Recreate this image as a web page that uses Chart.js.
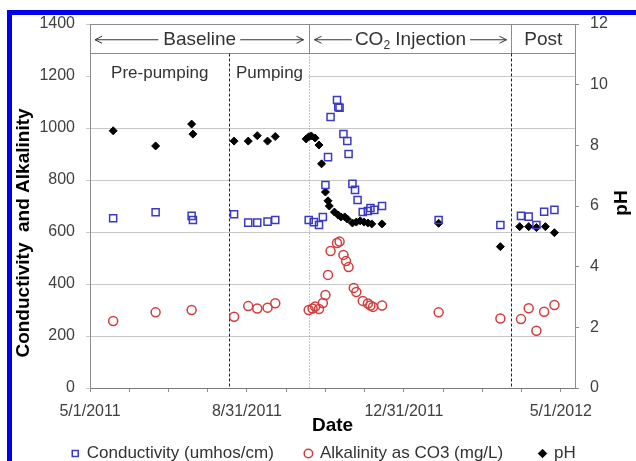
<!DOCTYPE html>
<html lang="en">
<head>
  <meta charset="UTF-8">
  <title>Conductivity, Alkalinity and pH</title>
  <script src="https://cdn.jsdelivr.net/npm/chart.js"></script>
  <style>
    html, body {
      margin: 0;
      padding: 0;
      background: #fff;
      overflow: hidden;
    }
    #wrap {
      position: relative;
      width: 636px;
      height: 472px;
    }
    #frame {
      position: absolute;
      left: 7px;
      top: 10px;
      right: -20px;
      bottom: -20px;
      border-top: 5px solid #0000f0;
      border-left: 5px solid #0000f0;
      pointer-events: none;
    }
  </style>
</head>
<body>
  <div id="wrap">
    <canvas id="chart" width="636" height="472"></canvas>
    <div id="frame"></div>
  </div>

  <script>
    // sampling dates and values
    const condDates = ['2011-05-19', '2011-06-21', '2011-07-19', '2011-07-20', '2011-08-21', '2011-09-01', '2011-09-08',
      '2011-09-16', '2011-09-22', '2011-10-18', '2011-10-22', '2011-10-26', '2011-10-29', '2011-10-31', '2011-11-02',
      '2011-11-04', '2011-11-09', '2011-11-10', '2011-11-11', '2011-11-14', '2011-11-17', '2011-11-18', '2011-11-21',
      '2011-11-23', '2011-11-25', '2011-11-29', '2011-12-03', '2011-12-05', '2011-12-08', '2011-12-14', '2012-01-27',
      '2012-03-15', '2012-03-31', '2012-04-06', '2012-04-12', '2012-04-18', '2012-04-26'];
    const condValues = [653, 676, 662, 646, 668, 636, 636,
      640, 646, 646, 638, 627, 658, 781, 888,
      1042, 1108, 1081, 1078, 977, 950, 900, 785,
      762, 723, 677, 681, 692, 685, 700, 646,
      627, 662, 659, 627, 678, 685];

    const alkDates = ['2011-05-19', '2011-06-21', '2011-07-19', '2011-08-21', '2011-09-01', '2011-09-08', '2011-09-16',
      '2011-09-22', '2011-10-18', '2011-10-21', '2011-10-23', '2011-10-26', '2011-10-29', '2011-10-31', '2011-11-02',
      '2011-11-04', '2011-11-09', '2011-11-11', '2011-11-14', '2011-11-16', '2011-11-18', '2011-11-22', '2011-11-24',
      '2011-11-29', '2011-12-03', '2011-12-05', '2011-12-07', '2011-12-14', '2012-01-27', '2012-03-15', '2012-03-31',
      '2012-04-06', '2012-04-12', '2012-04-18', '2012-04-26'];
    const alkValues = [258, 291, 300, 274, 315, 306, 309,
      326, 300, 306, 313, 304, 327, 358, 435,
      527, 558, 563, 512, 488, 465, 385, 369,
      335, 325, 317, 312, 317, 291, 267, 265,
      307, 220, 293, 319];

    const phDates = ['2011-05-19', '2011-06-21', '2011-07-19', '2011-07-20', '2011-08-21', '2011-09-01', '2011-09-08',
      '2011-09-16', '2011-09-22', '2011-10-16', '2011-10-18', '2011-10-20', '2011-10-23', '2011-10-26', '2011-10-28',
      '2011-10-31', '2011-11-02', '2011-11-03', '2011-11-07', '2011-11-10', '2011-11-12', '2011-11-15', '2011-11-17',
      '2011-11-21', '2011-11-24', '2011-11-27', '2011-11-30', '2011-12-03', '2011-12-06', '2011-12-14', '2012-01-27',
      '2012-03-15', '2012-03-30', '2012-04-06', '2012-04-12', '2012-04-19', '2012-04-26'];
    const phValues = [8.48, 7.98, 8.70, 8.37, 8.14, 8.14, 8.32,
      8.14, 8.29, 8.21, 8.28, 8.31, 8.24, 8.01, 7.39,
      6.46, 6.17, 6.00, 5.80, 5.70, 5.64, 5.64, 5.57,
      5.44, 5.47, 5.51, 5.47, 5.44, 5.41, 5.41, 5.43,
      4.66, 5.32, 5.32, 5.29, 5.32, 5.12];

    // axis ticks and study phases
    const xTickLabels = ['5/1/2011', '8/31/2011', '12/31/2011', '5/1/2012'];
    const xAxisEnd = '2012-05-12';
    const phaseLineDates = ['2011-08-17', '2011-10-18', '2012-03-23']; // pumping, CO2 start, post
    const headerBandTop = 1290; // bottom edge of the phase header row (left axis units)

    const FONT = "'Liberation Sans', Arial, sans-serif";
    const BLUE = '#3a3ac4';
    const RED = '#d23c3c';

    const startMs = Date.UTC(2011, 4, 1);
    function dayOf(iso) {
      const [y, m, d] = iso.split('-').map(Number);
      return (Date.UTC(y, m - 1, d) - startMs) / 864e5;
    }
    function dayOfUS(s) {
      const [m, d, y] = s.split('/').map(Number);
      return (Date.UTC(y, m - 1, d) - startMs) / 864e5;
    }
    const toPoints = (dates, vals) => dates.map((d, i) => ({ x: dayOf(d), y: vals[i] }));

    const majorDays = xTickLabels.map(dayOfUS);
    // four minor marks per major interval
    const tickDays = [];
    for (let i = 0; i < majorDays.length - 1; i++) {
      const step = (majorDays[i + 1] - majorDays[i]) / 4;
      for (let k = 0; k < 4; k++) tickDays.push(majorDays[i] + k * step);
    }
    tickDays.push(majorDays[majorDays.length - 1]);

    function arrow(ctx, x1, x2, y) {
      const d = x2 > x1 ? -1 : 1;
      ctx.beginPath();
      ctx.moveTo(x1, y);
      ctx.lineTo(x2, y);
      ctx.moveTo(x2 + d * 7, y - 3.5);
      ctx.lineTo(x2, y);
      ctx.lineTo(x2 + d * 7, y + 3.5);
      ctx.stroke();
    }

    const phasePlugin = {
      id: 'phases',
      beforeDatasetsDraw(chart) {
        const { ctx, chartArea: a, scales: { x, y } } = chart;
        const bandY = Math.round(y.getPixelForValue(headerBandTop)) + 0.5;
        const [pumpX, injX, postX] = phaseLineDates.map(d => Math.round(x.getPixelForValue(dayOf(d))) + 0.5);
        ctx.save();

        // text boxes under the baseline labels hide the grid line
        ctx.fillStyle = '#fff';
        ctx.fillRect(a.left + 1, bandY + 8, injX - a.left - 2, 30);

        ctx.strokeStyle = '#8c8c8c';
        ctx.lineWidth = 1;
        ctx.beginPath();
        ctx.moveTo(a.left, a.top + 0.5); ctx.lineTo(a.right, a.top + 0.5);
        ctx.moveTo(a.left, bandY); ctx.lineTo(a.right, bandY);
        ctx.moveTo(injX, a.top); ctx.lineTo(injX, bandY);
        ctx.moveTo(postX, a.top); ctx.lineTo(postX, bandY);
        ctx.stroke();

        ctx.setLineDash([1, 2]);
        ctx.beginPath();
        ctx.moveTo(injX, bandY); ctx.lineTo(injX, a.bottom);
        ctx.stroke();

        ctx.setLineDash([3, 2]);
        ctx.strokeStyle = '#222';
        ctx.beginPath();
        ctx.moveTo(pumpX, bandY); ctx.lineTo(pumpX, a.bottom);
        ctx.moveTo(postX, bandY); ctx.lineTo(postX, a.bottom);
        ctx.stroke();
        ctx.setLineDash([]);

        // header row
        const midY = (a.top + bandY) / 2 + 1;
        ctx.fillStyle = '#333';
        ctx.strokeStyle = '#333';
        ctx.textBaseline = 'middle';
        ctx.textAlign = 'left';
        ctx.font = '19px ' + FONT;

        let cx = (a.left + injX) / 2;
        let w = ctx.measureText('Baseline').width;
        ctx.fillText('Baseline', cx - w / 2, midY);
        arrow(ctx, cx - w / 2 - 5, a.left + 5, midY);
        arrow(ctx, cx + w / 2 + 4, injX - 6, midY);

        const wCO = ctx.measureText('CO').width;
        const wInj = ctx.measureText(' Injection').width;
        ctx.font = '12px ' + FONT;
        const wSub = ctx.measureText('2').width;
        w = wCO + wSub + wInj;
        cx = (injX + postX) / 2;
        let tx = cx - w / 2;
        ctx.font = '19px ' + FONT;
        ctx.fillText('CO', tx, midY);
        ctx.font = '12px ' + FONT;
        ctx.fillText('2', tx + wCO, midY + 6);
        ctx.font = '19px ' + FONT;
        ctx.fillText(' Injection', tx + wCO + wSub, midY);
        arrow(ctx, tx - 3, injX + 5, midY);
        arrow(ctx, tx + w + 4, postX - 5, midY);

        ctx.textAlign = 'center';
        ctx.fillText('Post', (postX + a.right) / 2, midY);

        ctx.font = '17px ' + FONT;
        ctx.fillText('Pre-pumping', (a.left + pumpX) / 2, 73);
        ctx.fillText('Pumping', (pumpX + injX) / 2, 73);
        ctx.restore();
      },
      afterDraw(chart) {
        const { ctx, chartArea: a } = chart;
        ctx.save();
        ctx.fillStyle = '#000';
        ctx.font = 'bold 19px ' + FONT;
        ctx.textAlign = 'center';
        ctx.textBaseline = 'middle';
        ctx.translate(24, (a.top + a.bottom) / 2 + 27);
        ctx.rotate(-Math.PI / 2);
        ctx.fillText('Conductivity  and Alkalinity', 0, 0);
        ctx.restore();

        ctx.save();
        ctx.fillStyle = '#000';
        ctx.font = 'bold 19px ' + FONT;
        ctx.textAlign = 'center';
        ctx.textBaseline = 'middle';
        ctx.translate(622, (a.top + a.bottom) / 2 - 3);
        ctx.rotate(-Math.PI / 2);
        ctx.fillText('pH', 0, 0);
        ctx.restore();
      }
    };

    const tickFont = { family: FONT, size: 16 };

    new Chart(document.getElementById('chart'), {
      type: 'scatter',
      data: {
        datasets: [
          {
            label: 'Conductivity (umhos/cm)     ',
            data: toPoints(condDates, condValues),
            yAxisID: 'y',
            pointStyle: 'rect',
            pointRadius: 5,
            pointHoverRadius: 5,
            borderColor: BLUE,
            backgroundColor: 'rgba(255,255,255,0)',
            borderWidth: 1.5
          },
          {
            label: 'Alkalinity as CO3 (mg/L)      ',
            data: toPoints(alkDates, alkValues),
            yAxisID: 'y',
            pointStyle: 'circle',
            pointRadius: 4.5,
            pointHoverRadius: 4.5,
            borderColor: RED,
            backgroundColor: 'rgba(255,255,255,0)',
            borderWidth: 1.5
          },
          {
            label: 'pH',
            data: toPoints(phDates, phValues),
            yAxisID: 'y1',
            pointStyle: 'rectRot',
            pointRadius: 4,
            pointHoverRadius: 4,
            borderColor: '#000',
            backgroundColor: '#000',
            borderWidth: 1
          }
        ]
      },
      options: {
        responsive: false,
        animation: false,
        layout: { padding: { left: 12, top: 24, right: 0, bottom: 0 } },
        plugins: {
          legend: {
            position: 'bottom',
            labels: {
              usePointStyle: true,
              boxWidth: 6,
              boxHeight: 6,
              padding: 8,
              color: '#333',
              font: { family: FONT, size: 17 }
            }
          }
        },
        scales: {
          x: {
            type: 'linear',
            min: 0,
            max: dayOf(xAxisEnd),
            afterBuildTicks: s => { s.ticks = tickDays.map(v => ({ value: v })); },
            afterFit: s => { s.height = 49; },
            ticks: {
              autoSkip: false,
              maxRotation: 0,
              minRotation: 0,
              padding: 10,
              color: '#404040',
              font: tickFont,
              callback: v => {
                const i = majorDays.findIndex(d => Math.abs(d - v) < 0.01);
                return i >= 0 ? xTickLabels[i] : '';
              }
            },
            grid: { drawOnChartArea: false, tickLength: 4, color: '#8c8c8c' },
            border: { color: '#7a7a7a' },
            title: {
              display: true,
              text: 'Date',
              color: '#000',
              font: { family: FONT, size: 19, weight: 'bold', lineHeight: 1 },
              padding: { top: 0, bottom: 2 }
            }
          },
          y: {
            position: 'left',
            min: 0,
            max: 1400,
            afterFit: s => { s.width = 78; },
            ticks: { stepSize: 200, padding: 11, color: '#404040', font: tickFont, callback: v => String(v) },
            grid: { color: '#c8c8c8', tickLength: 4 },
            border: { color: '#8c8c8c' }
          },
          y1: {
            position: 'right',
            min: 0,
            max: 12,
            afterFit: s => { s.width = 61; },
            ticks: { stepSize: 2, padding: 11, color: '#404040', font: tickFont, callback: v => String(v) },
            grid: { drawOnChartArea: false, tickLength: 4, color: '#8c8c8c' },
            border: { color: '#8c8c8c' }
          }
        }
      },
      plugins: [phasePlugin]
    });
  </script>
</body>
</html>
